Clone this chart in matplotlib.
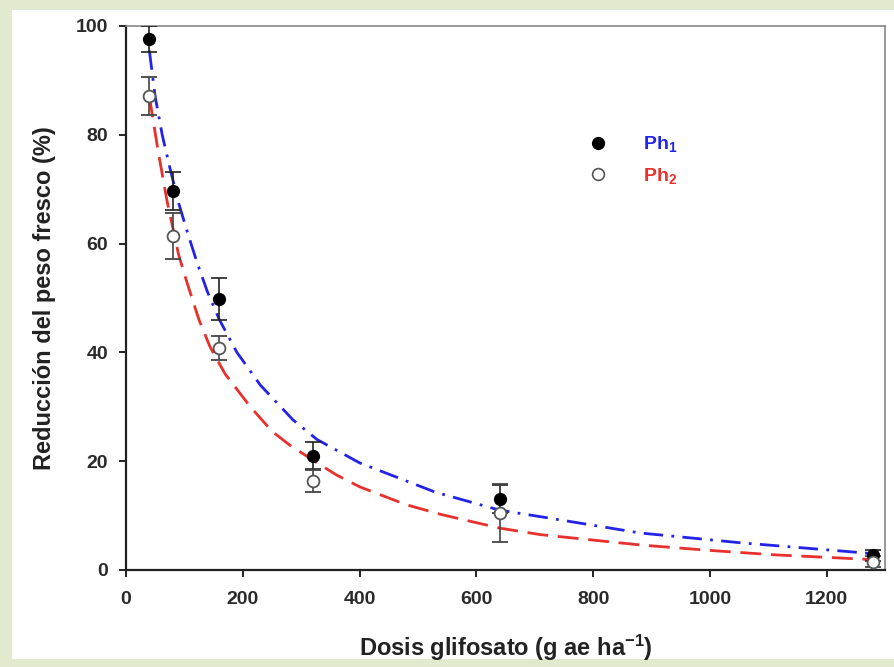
import matplotlib
matplotlib.use("Agg")
import matplotlib.pyplot as plt
from matplotlib.patches import Rectangle
from matplotlib.lines import Line2D

plt.rcParams['font.family'] = ['Liberation Sans', 'DejaVu Sans']
plt.rcParams['mathtext.fontset'] = 'custom'
plt.rcParams['mathtext.rm'] = 'Liberation Sans:bold'
plt.rcParams['mathtext.bf'] = 'Liberation Sans:bold'
plt.rcParams['mathtext.default'] = 'bf'

# Observed data
dose = [40, 80, 160, 320, 640, 1280]
ph1_mean = [97.6, 69.6, 49.8, 21.0, 13.0, 2.7]
ph1_err = [2.4, 3.5, 3.8, 2.5, 2.6, 1.0]
ph2_mean = [87.2, 61.4, 40.8, 16.4, 10.5, 1.5]
ph2_err = [3.5, 4.2, 2.2, 2.0, 5.3, 1.0]

# Fitted curves
ph1_fit_x = [40, 50, 62, 75, 90, 104, 122, 140, 160, 190, 230, 286, 327, 400, 530, 640, 710, 881, 1053, 1224, 1280]
ph1_fit_y = [95.5, 87.0, 80.0, 74.0, 67.5, 62.5, 56.4, 51.0, 46.0, 40.0, 34.0, 27.6, 24.0, 19.7, 14.3, 11.0, 9.8, 6.8, 5.0, 3.5, 3.0]
ph2_fit_x = [40, 55, 70, 90, 104, 125, 144, 170, 213, 250, 280, 320, 360, 400, 480, 540, 640, 710, 881, 1000, 1109, 1224, 1280]
ph2_fit_y = [87.0, 77.0, 68.0, 58.0, 53.0, 46.0, 41.0, 36.0, 30.0, 25.5, 23.0, 20.2, 17.5, 15.3, 12.0, 10.2, 7.7, 6.5, 4.6, 3.6, 2.8, 2.2, 1.9]

xticks = [0, 200, 400, 600, 800, 1000, 1200]
yticks = [0, 20, 40, 60, 80, 100]

fig = plt.figure(figsize=(8.94, 6.67), dpi=100)
fig.patch.set_facecolor('#e1eacf')
fig.add_artist(Rectangle((12/894, 0.012), 1, 0.973, transform=fig.transFigure,
                         facecolor='white', edgecolor='none', zorder=0))

ax = fig.add_axes([126/894, 1 - 570/667, (885 - 126)/894, (570 - 26)/667])
ax.set_facecolor('white')

ax.plot(ph1_fit_x, ph1_fit_y, color='#2323e6', lw=2.0, ls=(0, (7, 3, 1, 3)), zorder=2)
ax.plot(ph2_fit_x, ph2_fit_y, color='#e8302c', lw=2.0, ls=(0, (7.5, 3.5)), zorder=2)

ax.errorbar(dose, ph1_mean, yerr=ph1_err, fmt='o', color='black', ms=8.5,
            ecolor='#222222', elinewidth=1.2, capsize=6, capthick=1.2, zorder=3)
ax.errorbar(dose, ph2_mean, yerr=ph2_err, fmt='o', mfc='white', mec='#555555', mew=1.3,
            ms=8.5, ecolor='#444444', elinewidth=1.2, capsize=6, capthick=1.2, zorder=3)

ax.set_xlim(0, 1300)
ax.set_ylim(0, 100)
ax.set_xticks(xticks)
ax.set_yticks(yticks)
ax.tick_params(direction='out', length=5, width=1.2, labelsize=14)
ax.tick_params(axis='x', pad=10)
ax.tick_params(axis='y', pad=8)
for lab in ax.get_xticklabels() + ax.get_yticklabels():
    lab.set_fontweight('bold')
    lab.set_color('#2a2a2a')
for s in ['left', 'bottom']:
    ax.spines[s].set_linewidth(1.6)
    ax.spines[s].set_color('#222222')
for s in ['top', 'right']:
    ax.spines[s].set_linewidth(1.2)
    ax.spines[s].set_color('#888888')

ax.set_xlabel('Dosis glifosato (g ae ha$^{-1}$)', fontsize=17, fontweight='bold',
              color='#222222', labelpad=18)
ax.set_ylabel('Reducción del peso fresco (%)', fontsize=17, fontweight='bold',
              color='#222222', labelpad=14)

handles = [Line2D([], [], marker='o', ls='none', color='black', ms=8.5),
           Line2D([], [], marker='o', ls='none', mfc='white', mec='#555555', mew=1.2, ms=8.5)]
leg = ax.legend(handles, ['Ph$_1$', 'Ph$_2$'], loc='upper left',
                bbox_to_anchor=((561 - 126)/759, 1 - (117 - 26)/544), frameon=False,
                handletextpad=1.3, labelspacing=0.6, prop={'size': 14, 'weight': 'bold'},
                labelcolor=['#2323e6', '#e8302c'])

fig.savefig('out.png', dpi=100, facecolor=fig.get_facecolor())
